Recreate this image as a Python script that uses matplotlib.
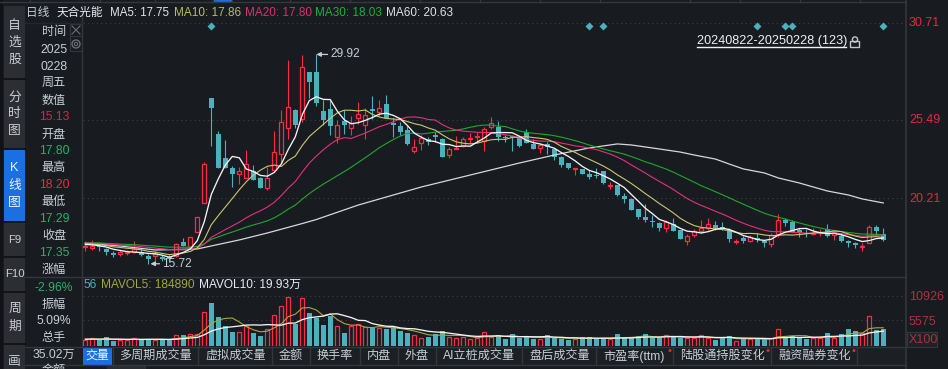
import numpy as np
import matplotlib
matplotlib.use('Agg')
import matplotlib.pyplot as plt
from matplotlib.patches import Rectangle, Circle

plt.rcParams['font.family'] = ['Liberation Sans', 'Noto Sans CJK SC', 'DejaVu Sans']
plt.rcParams['axes.unicode_minus'] = False

# ---------- data ----------
opens = [16.90,16.84,16.97,16.77,16.50,16.43,16.50,16.56,16.56,16.29,16.29,16.23,16.23,16.29,17.24,16.90,17.92,19.88,26.98,24.54,
 22.92,22.24,21.84,21.57,22.04,21.57,20.89,22.11,23.19,24.95,26.16,25.56,28.73,28.73,26.10,26.23,24.34,25.42,24.95,25.62,
 25.15,26.23,26.03,26.57,25.29,25.08,24.81,23.39,23.93,24.20,24.47,24.20,23.12,23.53,23.73,24.20,24.34,24.07,25.01,25.01,
 24.34,24.41,24.27,24.68,23.87,23.60,23.87,23.53,22.99,22.58,22.18,22.18,21.84,21.77,22.04,21.03,21.09,20.35,20.15,19.47,
 18.93,18.66,18.52,18.19,18.46,18.05,17.31,17.71,17.98,18.19,18.39,18.25,17.98,17.24,17.51,17.31,17.51,17.31,17.11,17.78,
 18.73,18.59,18.05,17.85,17.78,17.85,18.12,17.71,17.65,17.31,17.17,16.88,17.17,18.25,17.80]
highs = [17.31,17.38,17.17,16.84,16.63,16.70,16.70,17.31,16.84,16.43,16.63,16.36,16.36,17.17,17.51,17.58,18.93,22.65,26.98,24.74,
 24.14,22.38,22.31,23.46,22.45,21.63,22.31,24.74,26.16,29.54,26.23,29.88,28.73,29.92,26.84,26.84,25.49,26.16,25.76,26.70,
 26.30,27.11,26.84,27.18,25.62,25.35,25.08,24.20,24.47,24.34,24.68,24.27,23.66,24.41,24.34,24.61,24.68,25.01,25.69,25.42,
 24.47,24.47,24.34,24.88,24.20,23.93,24.00,23.60,23.05,22.58,22.24,22.18,22.11,22.24,22.04,21.30,21.09,20.55,20.22,19.47,
 19.81,19.07,18.59,18.73,18.86,18.05,17.78,18.12,18.73,18.86,18.66,18.59,18.19,17.44,17.65,17.71,17.85,17.38,17.85,19.13,
 18.86,18.73,18.19,18.12,18.19,18.12,18.46,18.05,17.85,17.38,17.24,17.17,18.39,18.39,18.20]
lows = [16.63,16.70,16.63,16.36,16.23,16.29,16.36,16.50,16.29,15.72,15.96,15.96,15.89,16.23,16.97,16.84,17.92,19.88,23.73,22.24,
 22.24,20.96,21.16,21.57,21.43,20.89,20.76,21.97,22.58,24.20,24.95,25.35,26.98,26.43,25.15,24.47,23.93,24.54,24.47,25.22,
 24.20,25.56,25.76,25.62,24.34,24.47,23.80,23.26,23.46,23.80,24.00,22.99,22.92,23.53,23.66,23.93,23.93,23.39,24.88,24.07,
 24.00,23.39,23.66,23.93,23.53,23.26,23.19,22.78,22.31,22.18,21.77,21.84,21.50,21.57,21.16,20.82,20.35,19.88,19.40,18.80,
 18.59,18.25,17.98,17.92,17.98,17.44,17.04,17.58,17.85,18.05,18.05,18.05,17.24,17.11,17.17,17.24,17.24,16.90,16.90,17.58,
 18.32,17.92,17.58,17.58,17.71,17.65,17.58,17.38,17.24,16.90,16.84,16.63,17.17,17.71,17.29]
closes = [16.97,16.97,16.90,16.56,16.36,16.56,16.56,16.77,16.36,16.09,16.43,16.09,16.09,17.11,16.97,17.58,18.93,22.51,26.30,22.24,
 22.24,21.84,22.04,22.51,21.43,20.89,21.57,23.32,25.35,26.37,25.15,29.07,28.06,26.64,25.49,25.08,25.15,25.15,25.29,25.89,
 25.83,26.10,26.30,25.62,25.15,24.68,23.87,23.66,24.27,24.00,24.34,22.99,23.53,23.60,24.20,24.27,24.41,24.88,25.29,24.34,
 24.27,24.34,23.73,23.93,23.53,23.80,23.66,22.99,22.45,22.24,22.24,21.84,21.63,21.70,21.23,21.09,20.42,20.15,19.40,18.93,
 18.73,18.59,18.19,18.59,17.98,17.44,17.65,17.98,18.19,18.46,18.19,18.12,17.44,17.31,17.31,17.58,17.38,17.17,17.71,18.73,
 18.52,17.92,17.85,17.78,17.85,17.92,17.65,17.92,17.31,17.17,17.04,16.92,18.25,17.98,17.35]
volumes = [1300,1730,1300,1950,1080,1300,1300,1730,1300,1520,1300,1520,1300,2380,2380,2600,2600,7360,9310,6280,
 4330,3030,3030,4330,2820,2170,3680,6710,8660,10610,4770,10400,7150,6060,4550,6500,4330,2820,4330,4770,
 4120,3900,3900,3680,4120,3250,2820,2380,1730,1950,2600,3250,1950,1730,1950,1520,1730,3030,1950,2380,
 1520,2600,1730,1950,1520,1520,2380,1730,1520,1300,1520,1950,1950,1520,1520,1520,2600,1950,1730,2170,
 2600,1730,1730,2380,1950,1730,1730,1730,2380,1730,1300,1730,2170,1080,1520,1520,1520,1520,1730,3680,
 1950,2170,1730,1520,1730,1730,2820,1730,2600,3680,3250,2820,6500,3470,3680]
# closes and volumes of the sessions hidden behind the left panel
hidden_closes = [17.3,17.2,17.4,17.3,17.1,17.2,17.3,17.4,17.2,17.1,17.3,17.2,17.1,17.2,17.3,17.4,17.2,17.3,17.1,17.2,
 17.2,17.1,17.3,17.2,17.0,17.1,17.2,17.0,17.1]
hidden_volumes = [1500,1400,1600,1500,1400,1500,1600,1500,1400]
ma60_k = [0,5,10,16,22,26,31,33,39,48,55,62,67,72,76,78,82,85,87,90,92,94,97,99,102,104,106,109,111,114]
ma60_v = [17.17,16.97,16.70,16.77,17.38,17.85,18.49,18.76,19.74,20.96,21.77,22.58,23.12,23.60,23.87,23.80,23.53,23.32,
 23.12,22.85,22.51,22.18,21.91,21.57,21.23,20.96,20.69,20.42,20.15,19.88]
signal_k = [18,72,74,96,100,101,114]

# ---------- helpers ----------
W, H = 948, 369
BG = '#181b20'; RED = '#ff2b43'; CYAN = '#4bb1bd'; GRN = '#24b36b'; LG = '#c9ced6'
fig = plt.figure(figsize=(W/100, H/100), dpi=100, facecolor=BG)
bgax = fig.add_axes([0, 0, 1, 1], zorder=-1); bgax.set_xlim(0, W); bgax.set_ylim(H, 0); bgax.axis('off')

def box(px0, py0, px1, py1):
    return [px0/W, 1-py1/H, (px1-px0)/W, (py1-py0)/H]

def T(x, y, s, c=LG, size=8.6, ha='left', **kw):
    return fig.text(x/W, 1-y/H, s, color=c, fontsize=size, ha=ha, va='center', **kw)

def R(x0, y0, x1, y1, fc, ec='none', lw=0):
    bgax.add_patch(Rectangle((x0, y0), x1-x0, y1-y0, facecolor=fc, edgecolor=ec, linewidth=lw))

def L(xs, ys, c='#3a3e44', lw=1, **kw):
    bgax.plot(xs, ys, color=c, lw=lw, **kw)

# ---------- chrome ----------
R(0, 0, 3, H, '#101215')
R(4, 6, 25, H, '#2c2e33')
R(4, 150, 25, 221, '#1b6fe0')
for y in [79, 149, 222, 257, 292, 344]:
    L([4, 25], [y, y], '#0d0f12', 1.2)
for ch, y, c in [('自',26,LG),('选',43,LG),('股',60,LG),('分',98,LG),('时',114,LG),('图',131,LG),
                 ('K',168,'#f0f4fa'),('线',186,'#f0f4fa'),('图',203,'#f0f4fa'),('周',309,LG),('期',327,LG),('画',362,LG)]:
    T(14.5, y, ch, c, 9.2, ha='center')
T(14.5, 240, 'F9', LG, 8.2, ha='center')
T(14.5, 274, 'F10', LG, 8.2, ha='center')

L([0, 906], [2, 2], '#34383d', 1)
for x in [30, 100, 155, 213, 232, 290, 350, 420, 480, 540, 600, 690, 740, 800, 860]:
    L([x, x], [0, 2], '#34383d', 1)
R(213, 0, 232, 2.5, '#1b6fe0')

L([82, 82], [6, 347], '#33373c', 1)
L([906, 906], [0, H], '#33373c', 1.2)
L([25, 906], [277, 277], '#33373c', 1)
L([25, 82], [23, 23], '#24272c', 1)
# left column
for y, s, c in [(32,'时间',LG),(50,'2025',LG),(67,'0228',LG),(83,'周五',LG),(101,'数值',LG),(117,'15.13','#d8283e'),
                (135,'开盘',LG),(151,'17.80',GRN),(168,'最高',LG),(185,'18.20','#ee2a40'),(202,'最低',LG),(219,'17.29',GRN),
                (236,'收盘',LG),(253,'17.35',GRN),(270,'涨幅',LG),(288,'-2.96%',GRN),(305,'振幅',LG),(321,'5.09%',LG),
                (338,'总手',LG),(355,'35.02万',LG)]:
    T(54, y, s, c, 8.7, ha='center')
T(54, 371, '金额', LG, 8.7, ha='center')
# close / settings icons
R(70, 24, 82, 36, BG, '#33373c', 0.8)
R(70, 36, 82, 51, BG, '#33373c', 0.8)
L([72, 80], [26, 34], '#6a6e74', 0.8); L([72, 80], [34, 26], '#6a6e74', 0.8)
bgax.add_patch(Circle((76, 44), 4, fill=False, ec='#6a6e74', lw=1))
bgax.add_patch(Circle((76, 44), 1.6, fill=False, ec='#6a6e74', lw=0.8))

# header
T(26, 13, '日线', LG, 8.4)
T(57, 13, '天合光能', '#e8ecf2', 8.4)
T(110, 13, 'MA5: 17.75', '#e2e6ea', 8.3)
T(174, 13, 'MA10: 17.86', '#b9bb68', 8.5)
T(245, 13, 'MA20: 17.80', '#d8316f', 8.5)
T(315, 13, 'MA30: 18.03', '#1fae3c', 8.5)
T(386, 13, 'MA60: 20.63', '#dfe2e6', 8.5)

# right labels
T(909, 23, '30.71', '#e02a40', 9)
T(909, 120, '25.49', '#e02a40', 9)
T(909, 199, '20.21', '#e02a40', 9)
T(909, 297, '10926', '#a8343e', 9)
T(909, 322, '5575', '#a8343e', 9)
T(909, 340, 'X100', '#a8343e', 9)
R(907, 332, 937, 347, '#1e2125', '#33373c', 0.8)

# volume legend
T(83, 285, '56', CYAN, 8.6)
T(101, 285, 'MAVOL5: 184890', '#a3a63c', 8.6)
T(199, 285, 'MAVOL10: 19.93万', '#e8ecf2', 8.6)

# date range
T(697, 41, '20240822-20250228 (123)', '#eef1f4', 9.05)
L([697, 846], [47, 47], '#eef1f4', 1)
R(850.5, 40.5, 859.5, 47, BG, '#c4c8cc', 1)
bgax.add_patch(Circle((855, 39.5), 2.6, fill=False, ec='#c4c8cc', lw=1))

# bottom tabs
R(25, 347, 906, 365, '#1c1f24')
L([25, 906], [346.5, 346.5], '#33373c', 1)
L([25, 906], [365, 365], '#33373c', 1)
R(83, 347.5, 112, 365, '#1b6fe0')
R(107, 366, 146, H, '#2a2d32')
T(97.5, 356, '交量', '#f0f4fa', 8.6, ha='center')
for x, s in [(119,'多周期成交量'),(205,'虚拟成交量'),(279,'金额'),(317,'换手率'),(367,'内盘'),(405,'外盘'),
             (443,'AI立桩成交量'),(529,'盘后成交量'),(603,'市盈率(ttm)'),(680,'陆股通持股变化'),(778,'融资融券变化')]:
    T(x, 356, s, LG, 8.7)
for x in [113, 198, 272, 310, 360, 398, 436, 522, 596, 673, 771, 857]:
    L([x, x], [347, 365], '#33373c', 1)
for x in [669, 767, 853]:
    T(x, 351, '•', '#ff2030', 8, ha='center')

# ---------- price panel ----------
o, h, l, c = map(np.array, (opens, highs, lows, closes))
k = np.arange(len(c))
up = c >= o
ax = fig.add_axes(box(83, 14, 906, 277))
ax.patch.set_alpha(0); ax.axis('off')
ax.set_xlim(-0.33, 117.24)
ax.set_ylim(33.6-0.0676*277, 33.6-0.0676*14)
ax.hlines([33.6-0.0676*23, 25.49, 20.22], -0.33, 117.24, color='#3c4046', lw=0.8, linestyles=(0, (1, 3)), zorder=1)
ax.vlines(k[up], l[up], h[up], color=RED, lw=0.8, zorder=2)
ax.vlines(k[~up], l[~up], h[~up], color=CYAN, lw=0.8, zorder=2)
ax.bar(k[up], np.maximum(c[up]-o[up], 0.06), bottom=o[up], width=0.62, facecolor=BG, edgecolor=RED, lw=0.9, zorder=3)
ax.bar(k[~up], np.maximum(o[~up]-c[~up], 0.08), bottom=c[~up], width=0.72, facecolor=CYAN, edgecolor='none', zorder=3)
full_c = np.r_[hidden_closes, c]
nh = len(hidden_closes)
def ma(arr, n, offset):
    return np.convolve(arr, np.ones(n)/n, mode='full')[n-1:len(arr)][offset-n+1:]
for n, col, lw in [(30,'#1da82f',0.8),(20,'#e5307a',0.8),(10,'#c8c96c',0.8),(5,'#f4f4f4',0.95)]:
    ax.plot(k, ma(full_c, n, nh), color=col, lw=lw, zorder=5, solid_joinstyle='round')
ax.plot(ma60_k, ma60_v, color='#d6d8da', lw=0.9, zorder=4)
ytop = 33.6-0.0676*26
ax.plot(signal_k, [ytop]*len(signal_k), ls='none', marker='D', ms=4.2, color=CYAN, mec='none', zorder=6)
# high / low annotations
imax, imin = int(np.argmax(h)), int(np.argmin(l))
ax.annotate(f'{h[imax]:.2f}', xy=(imax, h[imax]), xytext=(imax+2.0, h[imax]), color='#c9ced6', fontsize=8.6, va='center',
            arrowprops=dict(arrowstyle='-|>,head_width=0.15,head_length=0.3', color='#c9ced6', lw=0.9, shrinkA=0, shrinkB=0), zorder=7)
ax.annotate(f'{l[imin]:.2f}', xy=(imin+0.3, l[imin]+0.05), xytext=(imin+2.0, l[imin]+0.05), color='#c9ced6', fontsize=8.6, va='center',
            arrowprops=dict(arrowstyle='-|>,head_width=0.15,head_length=0.3', color='#c9ced6', lw=0.9, shrinkA=0, shrinkB=0), zorder=7)

# ---------- volume panel ----------
v = np.array(volumes, float)
vax = fig.add_axes(box(83, 277, 906, 346))
vax.patch.set_alpha(0); vax.axis('off')
vax.set_xlim(-0.33, 117.24)
vax.set_ylim(0, 69*216.6)
vax.hlines([10926, 5575], -0.33, 117.24, color='#3c4046', lw=0.8, linestyles=(0, (1, 3)), zorder=1)
vax.bar(k[up], v[up], width=0.62, facecolor=BG, edgecolor=RED, lw=0.9, zorder=3)
vax.bar(k[~up], v[~up], width=0.72, facecolor=CYAN, edgecolor='none', zorder=3)
full_v = np.r_[hidden_volumes, v]
nv = len(hidden_volumes)
vax.plot(k, ma(full_v, 5, nv), color='#a8aa3c', lw=0.8, zorder=5)
vax.plot(k, ma(full_v, 10, nv), color='#f4f4f4', lw=0.95, zorder=6)

fig.savefig('out.png', dpi=100, facecolor=BG)
